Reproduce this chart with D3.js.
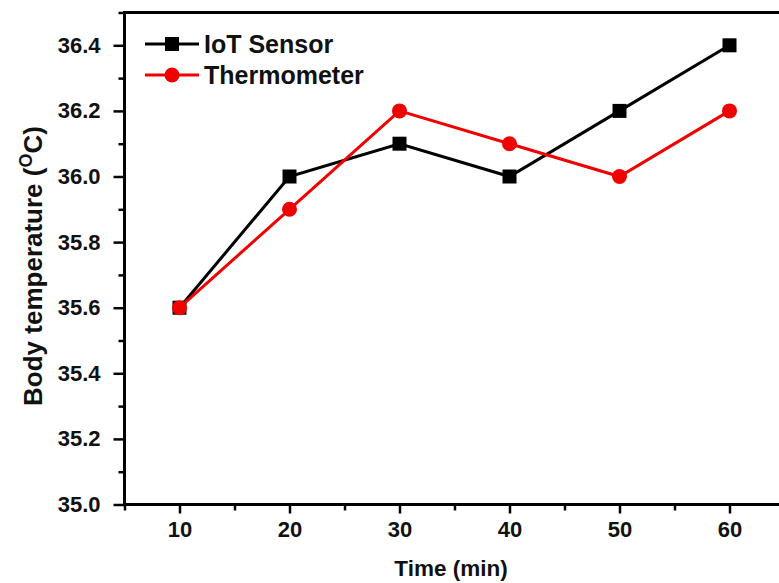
<!DOCTYPE html>
<html>
<head>
<meta charset="utf-8">
<script src="https://cdn.jsdelivr.net/npm/d3@7"></script>
<style>
  html, body { margin: 0; padding: 0; background: #fff; }
  svg { display: block; font-family: "Liberation Sans", Arial, sans-serif; }
</style>
</head>
<body>
<svg id="chart" width="779" height="583"></svg>
<script>
// Sampling times (min) and body temperature readings (°C)
const times = [10, 20, 30, 40, 50, 60];
const iotSensor = [35.6, 36.0, 36.1, 36.0, 36.2, 36.4];
const thermometer = [35.6, 35.9, 36.2, 36.1, 36.0, 36.2];
const seriesNames = ["IoT Sensor", "Thermometer"];
const xTicks = [10, 20, 30, 40, 50, 60];
const xMinorTicks = [5, 15, 25, 35, 45, 55];
const yTicks = [35.0, 35.2, 35.4, 35.6, 35.8, 36.0, 36.2, 36.4];
const yMinorTicks = [35.1, 35.3, 35.5, 35.7, 35.9, 36.1, 36.3, 36.5];

const svg = d3.select("#chart");
const plotLeft = 124.5, plotRight = 784.5, plotTop = 12.5, plotBottom = 504.5;
const fontFamily = "'Liberation Sans', Arial, sans-serif";

const x = d3.scaleLinear().domain([5, 65]).range([plotLeft, plotRight]);
const y = d3.scaleLinear().domain([35.0, 36.5]).range([plotBottom, plotTop]);

const axisStroke = 3;

// Minor ticks
svg.append("g")
  .attr("transform", `translate(0,${plotBottom})`)
  .call(d3.axisBottom(x).tickValues(xMinorTicks).tickSize(6).tickFormat(""))
  .call(g => g.select(".domain").remove())
  .call(g => g.selectAll("line").attr("stroke", "#000").attr("stroke-width", 2.5));
svg.append("g")
  .attr("transform", `translate(${plotLeft},0)`)
  .call(d3.axisLeft(y).tickValues(yMinorTicks).tickSize(6).tickFormat(""))
  .call(g => g.select(".domain").remove())
  .call(g => g.selectAll("line").attr("stroke", "#000").attr("stroke-width", 2.5));

// Major ticks and labels
svg.append("g")
  .attr("transform", `translate(0,${plotBottom})`)
  .call(d3.axisBottom(x).tickValues(xTicks).tickSize(9).tickPadding(8).tickFormat(d3.format("d")))
  .call(g => g.select(".domain").remove())
  .call(g => g.selectAll("line").attr("stroke", "#000").attr("stroke-width", 2.5))
  .call(g => g.selectAll("text")
    .attr("fill", "#111").attr("font-size", 22).attr("font-weight", "bold")
    .attr("font-family", fontFamily));
svg.append("g")
  .attr("transform", `translate(${plotLeft},0)`)
  .call(d3.axisLeft(y).tickValues(yTicks).tickSize(11).tickPadding(13).tickFormat(d3.format(".1f")))
  .call(g => g.select(".domain").remove())
  .call(g => g.selectAll("line").attr("stroke", "#000").attr("stroke-width", 2.5))
  .call(g => g.selectAll("text")
    .attr("fill", "#111").attr("font-size", 22).attr("font-weight", "bold")
    .attr("font-family", fontFamily));

// Frame: left, bottom and top edges
svg.append("path")
  .attr("d", `M${plotRight},${plotTop}H${plotLeft}V${plotBottom}H${plotRight}`)
  .attr("fill", "none").attr("stroke", "#000").attr("stroke-width", axisStroke)
  .attr("stroke-linecap", "square");

// Series
const series = [
  { name: seriesNames[0], values: iotSensor, color: "#000000", marker: "square" },
  { name: seriesNames[1], values: thermometer, color: "#f00000", marker: "circle" }
];

const line = d3.line().x(d => x(d.t)).y(d => y(d.v));

function drawMarker(g, type, cx, cy, color) {
  if (type === "square") {
    g.append("rect")
      .attr("x", cx - 7).attr("y", cy - 7)
      .attr("width", 14).attr("height", 14)
      .attr("fill", color);
  } else {
    g.append("circle")
      .attr("cx", cx).attr("cy", cy).attr("r", 7.5)
      .attr("fill", color);
  }
}

series.forEach(s => {
  const pts = times.map((t, i) => ({ t, v: s.values[i] }));
  const g = svg.append("g");
  g.append("path")
    .datum(pts)
    .attr("d", line)
    .attr("fill", "none")
    .attr("stroke", s.color)
    .attr("stroke-width", 3);
  pts.forEach(p => drawMarker(g, s.marker, x(p.t), y(p.v), s.color));
});

// Legend
const legend = svg.append("g");
series.forEach((s, i) => {
  const ly = 44 + i * 31;
  legend.append("line")
    .attr("x1", 145).attr("x2", 199).attr("y1", ly).attr("y2", ly)
    .attr("stroke", s.color).attr("stroke-width", 3);
  drawMarker(legend, s.marker, 172, ly, s.color);
  legend.append("text")
    .attr("x", 204).attr("y", ly + 9)
    .attr("font-size", 25).attr("font-weight", "bold").attr("fill", "#111")
    .attr("font-family", fontFamily)
    .text(s.name);
});

// Axis titles
svg.append("text")
  .attr("x", 451).attr("y", 576)
  .attr("text-anchor", "middle")
  .attr("font-size", 22.5).attr("font-weight", "bold").attr("fill", "#111")
  .attr("font-family", fontFamily)
  .text("Time (min)");

const yTitle = svg.append("text")
  .attr("transform", `translate(42,266) rotate(-90)`)
  .attr("text-anchor", "middle")
  .attr("font-size", 26).attr("font-weight", "bold").attr("fill", "#111")
  .attr("font-family", fontFamily);
yTitle.append("tspan").text("Body temperature (");
yTitle.append("tspan").attr("font-size", 18).attr("dy", -10).text("O");
yTitle.append("tspan").attr("dy", 10).text("C)");
</script>
</body>
</html>
